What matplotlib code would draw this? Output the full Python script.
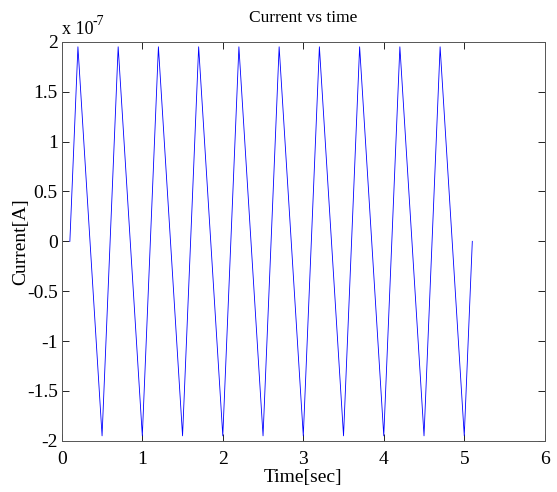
import matplotlib.pyplot as plt
from matplotlib.ticker import FuncFormatter

# vertices of the current waveform
time = [0.1, 0.2, 0.5, 0.7, 1.0, 1.2, 1.5, 1.7, 2.0, 2.2, 2.5, 2.7, 3.0, 3.2,
        3.5, 3.7, 4.0, 4.2, 4.5, 4.7, 5.0, 5.1]
current = [0, 1.95e-7, -1.95e-7, 1.95e-7, -1.95e-7, 1.95e-7, -1.95e-7, 1.95e-7,
           -1.95e-7, 1.95e-7, -1.95e-7, 1.95e-7, -1.95e-7, 1.95e-7, -1.95e-7,
           1.95e-7, -1.95e-7, 1.95e-7, -1.95e-7, 1.95e-7, -1.95e-7, 0]

xticks = [0, 1, 2, 3, 4, 5, 6]
yticks = [-2e-7, -1.5e-7, -1e-7, -0.5e-7, 0, 0.5e-7, 1e-7, 1.5e-7, 2e-7]

plt.rcParams['font.family'] = ['Liberation Serif', 'DejaVu Serif']

fig = plt.figure(figsize=(5.57, 4.92), dpi=100)
ax = fig.add_axes([0.111, 0.104, 0.867, 0.811])

ax.plot(time, current, color='#0000ff', linewidth=0.6)

ax.set_xlim(0, 6)
ax.set_ylim(-2e-7, 2e-7)
ax.set_xticks(xticks)
ax.set_yticks(yticks)
ax.yaxis.set_major_formatter(FuncFormatter(lambda v, p: '%g' % round(v / 1e-7, 2)))

ax.tick_params(direction='in', length=5, width=0.6, labelsize=14,
               top=True, right=True, pad=3)
ax.tick_params(axis='x', pad=7)
for s in ax.spines.values():
    s.set_linewidth(0.7)
    s.set_color('#555555')

# exponent label in the MATLAB style
ax.text(0.0, 1.01, 'x 10', transform=ax.transAxes, fontsize=13,
        ha='left', va='bottom')
ax.text(0.063, 1.035, '-7', transform=ax.transAxes, fontsize=10,
        ha='left', va='bottom')

ax.set_title('Current vs time', fontsize=12.5, pad=14)
ax.set_xlabel('Time[sec]', fontsize=14, labelpad=1)
ax.set_ylabel('Current[A]', fontsize=14, labelpad=-2)

fig.savefig('out.png', dpi=100)
